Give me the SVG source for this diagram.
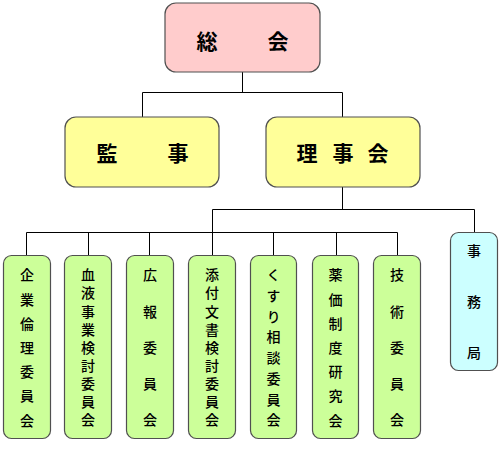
<svg xmlns="http://www.w3.org/2000/svg" width="500" height="450" viewBox="0 0 500 450">
<style>
.box{stroke:#505050;stroke-width:1.2}
.pink{fill:#FFCCCC}
.yellow{fill:#FFFF99}
.green{fill:#CCFF99}
.cyan{fill:#CCFFFF}
.big{font-family:"Noto Sans CJK JP","Noto Sans CJK SC",sans-serif;font-weight:bold;font-size:21px;fill:#000;text-anchor:middle;dominant-baseline:central}
.v{font-family:"Noto Sans CJK JP","Noto Sans CJK SC",sans-serif;font-weight:500;font-size:14px;fill:#000;writing-mode:vertical-rl;text-anchor:start}
.line{fill:none;stroke:#000;stroke-width:1}
</style>
<rect width="500" height="450" fill="#fff"/>
<g id="connectors">
<path class="line" d="M242.5 72V92.5M142.5 92.5H342.5M142.5 92.5V117M342.5 92.5V117"/>
<path class="line" d="M342.5 187V209.5M212.5 209.5H474.5M474.5 209.5V232M212.5 209.5V232.5"/>
<path class="line" d="M26.5 232.5H397.5M26.5 232.5V255M88.5 232.5V255M149.5 232.5V255M212.5 232.5V255M273.5 232.5V255M336.5 232.5V255M397.5 232.5V255"/>
</g>
<g id="soukai">
<rect class="box pink" x="165" y="3" width="155" height="69" rx="11"/>
<text class="big" x="207" y="40">総</text>
<text class="big" x="278" y="40">会</text>
</g>
<g id="kanji">
<rect class="box yellow" x="65" y="117" width="154" height="70" rx="11"/>
<text class="big" x="107" y="152">監</text>
<text class="big" x="178" y="152">事</text>
</g>
<g id="rijikai">
<rect class="box yellow" x="266" y="117" width="154" height="70" rx="11"/>
<text class="big" x="307" y="152">理</text>
<text class="big" x="343" y="152">事</text>
<text class="big" x="378" y="152">会</text>
</g>
<g id="kigyo">
<rect class="box green" x="3.5" y="255.5" width="47" height="183" rx="8"/>
<text class="v" x="27" y="268" letter-spacing="10.2">企業倫理委員会</text>
</g>
<g id="ketsueki">
<rect class="box green" x="64.5" y="255.5" width="47" height="183" rx="8"/>
<text class="v" x="88" y="268" letter-spacing="4.1">血液事業検討委員会</text>
</g>
<g id="koho">
<rect class="box green" x="126.5" y="255.5" width="47" height="183" rx="8"/>
<text class="v" x="150" y="268" letter-spacing="22.2">広報委員会</text>
</g>
<g id="tenpu">
<rect class="box green" x="188.5" y="255.5" width="47" height="183" rx="8"/>
<text class="v" x="212" y="268" letter-spacing="4.1">添付文書検討委員会</text>
</g>
<g id="kusuri">
<rect class="box green" x="250.5" y="255.5" width="46" height="183" rx="8"/>
<text class="v" x="273.5" y="268" letter-spacing="6.7">くすり相談委員会</text>
</g>
<g id="yakka">
<rect class="box green" x="312.5" y="255.5" width="46" height="183" rx="8"/>
<text class="v" x="335.5" y="268" letter-spacing="10.2">薬価制度研究会</text>
</g>
<g id="gijutsu">
<rect class="box green" x="373.5" y="255.5" width="47" height="183" rx="8"/>
<text class="v" x="397" y="268" letter-spacing="22.2">技術委員会</text>
</g>
<g id="jimukyoku">
<rect class="box cyan" x="450.5" y="232.5" width="47" height="138" rx="8"/>
<text class="v" x="474" y="244" letter-spacing="37">事務局</text>
</g>
</svg>
